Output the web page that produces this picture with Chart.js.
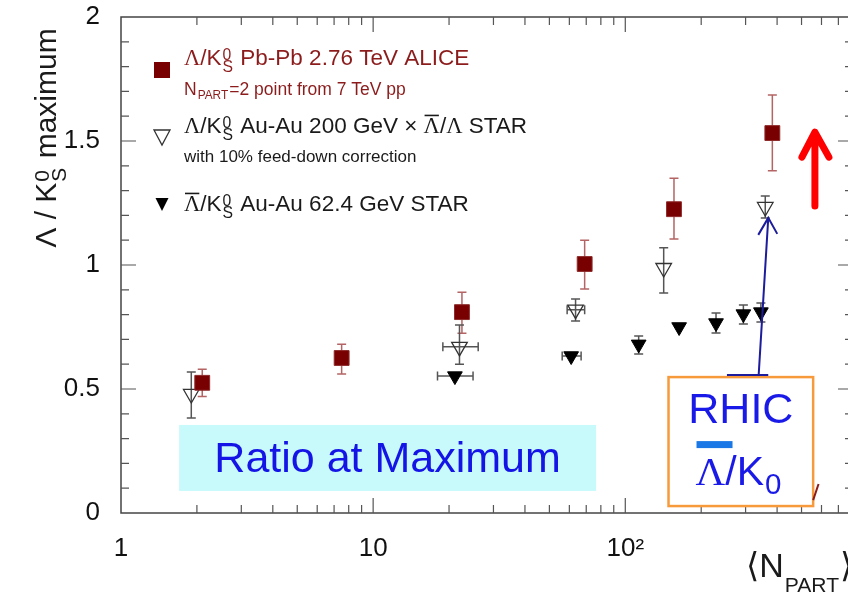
<!DOCTYPE html>
<html>
<head>
<meta charset="utf-8">
<script src="https://cdn.jsdelivr.net/npm/chart.js@4.4.1/dist/chart.umd.min.js"></script>
<style>
  html, body { margin: 0; padding: 0; background: #fff; overflow: hidden; }
</style>
</head>
<body>
<canvas id="myChart" width="880" height="595"></canvas>
<script>
// ALICE Pb-Pb 2.76 TeV (Npart=2 point from 7 TeV pp)
const aliceNpart = [2.1, 7.5, 22.5, 69, 156, 383];
const aliceRatio = [0.525, 0.625, 0.81, 1.004, 1.225, 1.532];
const aliceLow   = [0.47, 0.56, 0.725, 0.903, 1.105, 1.38];
const aliceHigh  = [0.58, 0.68, 0.89, 1.10, 1.35, 1.685];

// STAR Au-Au 200 GeV x antiLambda/Lambda
const star200Npart = [1.9, 22, 63.5, 142, 359];
const star200Ratio = [0.48, 0.67, 0.82, 0.988, 1.234];
const star200Low   = [0.383, 0.60, 0.774, 0.887, 1.19];
const star200High  = [0.569, 0.758, 0.863, 1.07, 1.278];
const star200NLow  = [null, 18.9, 58.8, null, null];
const star200NHigh = [null, 26.1, 69, null, null];

// STAR Au-Au 62.4 GeV antiLambda/K0s
const star62Npart = [21.1, 61, 113, 163.5, 229, 294, 345];
const star62Ratio = [0.552, 0.633, 0.68, 0.75, 0.766, 0.802, 0.81];
const star62Low   = [null, null, 0.641, null, 0.726, 0.762, 0.77];
const star62High  = [null, null, 0.714, null, 0.806, 0.839, 0.847];
const star62NLow  = [18.0, 56.2, null, null, null, null, null];
const star62NHigh = [24.9, 66.8, null, null, null, null, null];

const xTicks = [1, 10, 100];
const xTickLabels = ['1', '10', '10²'];
const yTicks = [0, 0.5, 1, 1.5, 2];

const SANS = "'Liberation Sans', Arial, 'DejaVu Sans', sans-serif";
const SERIF = "'Liberation Serif', 'Times New Roman', serif";

// text with sub/superscripts and overlines
function richText(ctx, parts, x, y, size, color, draw, o) {
  o = Object.assign({ scr: 0.7, supDy: 0.22, subDy: 0.32 }, o || {});
  let cx = x;
  ctx.fillStyle = color;
  ctx.strokeStyle = color;
  ctx.textAlign = 'left';
  ctx.textBaseline = 'alphabetic';
  for (const p of parts) {
    if (p.t !== undefined) {
      ctx.font = size + 'px ' + (p.serif ? SERIF : SANS);
      const w = ctx.measureText(p.t).width;
      if (draw) {
        ctx.fillText(p.t, cx, y);
        if (p.bar) {
          ctx.lineWidth = Math.max(1.5, size * 0.07);
          ctx.beginPath();
          ctx.moveTo(cx + 1, y - size * 0.78);
          ctx.lineTo(cx + w - 1, y - size * 0.78);
          ctx.stroke();
        }
      }
      cx += w;
    } else {
      const s = size * o.scr;
      ctx.font = s + 'px ' + SANS;
      const w1 = p.sup ? ctx.measureText(p.sup).width : 0;
      const w2 = p.sub ? ctx.measureText(p.sub).width : 0;
      if (draw) {
        if (p.sup) ctx.fillText(p.sup, cx + 1, y - size * o.supDy);
        if (p.sub) ctx.fillText(p.sub, cx + 1, y + size * o.subDy);
      }
      cx += Math.max(w1, w2) + 2;
    }
  }
  return cx - x;
}

const errorBars = {
  id: 'errorBars',
  beforeDatasetsDraw(chart) {
    const c = chart.ctx, xs = chart.scales.x, ys = chart.scales.y;
    c.save();
    chart.data.datasets.forEach(ds => {
      c.strokeStyle = ds.errColor;
      c.lineWidth = 1.5;
      ds.data.forEach((p, i) => {
        const px = xs.getPixelForValue(p.x), py = ys.getPixelForValue(p.y);
        if (ds.lo && ds.lo[i] != null) {
          const y1 = ys.getPixelForValue(ds.lo[i]), y2 = ys.getPixelForValue(ds.hi[i]);
          c.beginPath();
          c.moveTo(px, y1); c.lineTo(px, y2);
          c.moveTo(px - 4.5, y1); c.lineTo(px + 4.5, y1);
          c.moveTo(px - 4.5, y2); c.lineTo(px + 4.5, y2);
          c.stroke();
        }
        if (ds.nlo && ds.nlo[i] != null) {
          const x1 = xs.getPixelForValue(ds.nlo[i]), x2 = xs.getPixelForValue(ds.nhi[i]);
          c.beginPath();
          c.moveTo(x1, py); c.lineTo(x2, py);
          c.moveTo(x1, py - 4.5); c.lineTo(x1, py + 4.5);
          c.moveTo(x2, py - 4.5); c.lineTo(x2, py + 4.5);
          c.stroke();
        }
      });
    });
    c.restore();
  }
};

const decor = {
  id: 'decor',
  afterDraw(chart) {
    const c = chart.ctx, a = chart.chartArea, xs = chart.scales.x, ys = chart.scales.y;
    const X = v => xs.getPixelForValue(v), Y = v => ys.getPixelForValue(v);
    c.save();

    // frame and inward ticks
    c.strokeStyle = '#444';
    c.lineWidth = 1.5;
    c.strokeRect(a.left, a.top, a.right - a.left, a.bottom - a.top);
    c.lineWidth = 1.2;
    c.strokeStyle = '#555';
    c.beginPath();
    [1, 10, 100].forEach(d => {
      for (let k = 1; k <= 9; k++) {
        const v = k * d;
        if (v <= 1 || v >= 800) continue;
        const len = k === 1 ? 15 : 8, px = X(v);
        c.moveTo(px, a.bottom); c.lineTo(px, a.bottom - len);
        c.moveTo(px, a.top); c.lineTo(px, a.top + len);
      }
    });
    for (let k = 1; k < 20; k++) {
      const len = k % 5 === 0 ? 15 : 8, py = Y(k / 10);
      c.moveTo(a.left, py); c.lineTo(a.left + len, py);
      c.moveTo(a.right, py); c.lineTo(a.right - len, py);
    }
    c.stroke();

    // legend
    const lx = 162;
    c.fillStyle = '#780000';
    c.fillRect(lx - 8, 62, 16, 16);
    c.strokeStyle = '#333';
    c.lineWidth = 1.3;
    c.beginPath();
    c.moveTo(lx - 8, 130); c.lineTo(lx + 8, 130); c.lineTo(lx, 145); c.closePath();
    c.stroke();
    c.fillStyle = '#000';
    c.beginPath();
    c.moveTo(lx - 6.5, 198); c.lineTo(lx + 6.5, 198); c.lineTo(lx, 211); c.closePath();
    c.fill();

    const red = '#8c1c1c', blk = '#1a1a1a';
    richText(c, [{ t: 'Λ', serif: true }, { t: '/K' }, { sup: '0', sub: 'S' }, { t: ' Pb-Pb 2.76 TeV ALICE' }], 184, 65, 22.5, red, true);
    richText(c, [{ t: 'N' }, { sub: 'PART' }, { t: '=2 point from 7 TeV pp' }], 184, 95, 17.5, red, true, { scr: 0.68, subDy: 0.25 });
    richText(c, [{ t: 'Λ', serif: true }, { t: '/K' }, { sup: '0', sub: 'S' }, { t: ' Au-Au 200 GeV ' }, { t: '×' },
      { t: ' ' }, { t: 'Λ', serif: true, bar: true }, { t: '/' }, { t: 'Λ', serif: true }, { t: ' STAR' }], 184, 133, 22.5, blk, true);
    richText(c, [{ t: 'with 10% feed-down correction' }], 184, 162, 17, blk, true);
    richText(c, [{ t: 'Λ', serif: true, bar: true }, { t: '/K' }, { sup: '0', sub: 'S' }, { t: ' Au-Au 62.4 GeV STAR' }], 184, 211, 22.5, blk, true);

    // axis titles
    c.save();
    c.translate(56, 138);
    c.rotate(-Math.PI / 2);
    const yt = [{ t: 'Λ / K' }, { sup: '0', sub: 'S' }, { t: ' maximum' }];
    const w = richText(c, yt, 0, 0, 30, blk, false);
    richText(c, yt, -w / 2, 0, 30, blk, true);
    c.restore();
    richText(c, [{ t: '⟨' }, { t: 'N' }, { sub: 'PART' }, { t: '⟩' }], 746, 577, 34, blk, true, { scr: 0.62, subDy: 0.44 });

    // "Ratio at Maximum" box
    const bx1 = X(1.70), bx2 = X(76.6), by1 = Y(0.355), by2 = Y(0.089);
    c.fillStyle = '#c8fafc';
    c.fillRect(bx1, by1, bx2 - bx1, by2 - by1);
    c.fillStyle = '#1414e6';
    c.font = '43px ' + SANS;
    c.textAlign = 'center';
    c.textBaseline = 'alphabetic';
    c.fillText('Ratio at Maximum', (bx1 + bx2) / 2, by1 + 47);

    // RHIC box
    const rx1 = X(148.4), rx2 = X(556), ry1 = Y(0.548), ry2 = Y(0.028);
    c.fillStyle = '#fff';
    c.fillRect(rx1, ry1, rx2 - rx1, ry2 - ry1);
    c.strokeStyle = '#f79a3c';
    c.lineWidth = 2.5;
    c.strokeRect(rx1, ry1, rx2 - rx1, ry2 - ry1);
    c.fillStyle = '#1a1ae8';
    c.font = '43px ' + SANS;
    c.textAlign = 'center';
    c.fillText('RHIC', (rx1 + rx2) / 2, ry1 + 46);
    c.fillStyle = '#1a78e6';
    c.fillRect(rx1 + 28, ry1 + 64, 36, 7);
    richText(c, [{ t: 'Λ', serif: true }, { t: '/K' }, { sub: '0' }], rx1 + 27, ry1 + 108, 41, '#1a1ae8', true, { scr: 0.72, subDy: 0.22 });

    // blue arrow to RHIC point
    const tx = X(369), ty = Y(1.19), sx = X(338), sy = Y(0.556);
    c.strokeStyle = '#1c1c9c';
    c.lineWidth = 2;
    c.beginPath();
    c.moveTo(X(253), sy); c.lineTo(X(369), sy);
    c.moveTo(sx, sy); c.lineTo(tx, ty);
    c.moveTo(tx - 10, ty + 17); c.lineTo(tx, ty); c.lineTo(tx + 9, ty + 16);
    c.stroke();

    // red arrow
    const ax = X(565), atop = Y(1.544), abot = Y(1.238);
    c.strokeStyle = '#ff0000';
    c.lineWidth = 7;
    c.lineCap = 'round';
    c.lineJoin = 'round';
    c.beginPath();
    c.moveTo(ax, abot); c.lineTo(ax, atop + 3);
    c.moveTo(ax - 13, atop + 27); c.lineTo(ax, atop + 2); c.lineTo(ax + 14, atop + 27);
    c.stroke();

    // small dark red mark
    c.strokeStyle = '#8c1c1c';
    c.lineWidth = 2;
    c.lineCap = 'butt';
    c.beginPath();
    c.moveTo(X(556), Y(0.052)); c.lineTo(X(584), Y(0.117));
    c.stroke();

    c.restore();
  }
};

const toPts = (xs, ys) => xs.map((x, i) => ({ x: x, y: ys[i] }));

const ctx = document.getElementById('myChart').getContext('2d');
const myChart = new Chart(ctx, {
  type: 'scatter',
  data: {
    datasets: [
      {
        label: 'ALICE Pb-Pb 2.76 TeV',
        data: toPts(aliceNpart, aliceRatio),
        pointStyle: 'rect', pointRadius: 10.5, pointHoverRadius: 10.5,
        backgroundColor: '#780000', borderColor: '#8e2a2a', borderWidth: 1,
        errColor: '#b46464', lo: aliceLow, hi: aliceHigh
      },
      {
        label: 'STAR Au-Au 200 GeV',
        data: toPts(star200Npart, star200Ratio),
        pointStyle: 'triangle', rotation: 180, pointRadius: 9, pointHoverRadius: 9,
        backgroundColor: 'rgba(0,0,0,0)', borderColor: '#333', borderWidth: 1.3,
        errColor: '#555', lo: star200Low, hi: star200High, nlo: star200NLow, nhi: star200NHigh
      },
      {
        label: 'STAR Au-Au 62.4 GeV',
        data: toPts(star62Npart, star62Ratio),
        pointStyle: 'triangle', rotation: 180, pointRadius: 8.5, pointHoverRadius: 8.5,
        backgroundColor: '#000', borderColor: '#000', borderWidth: 1,
        errColor: '#555', lo: star62Low, hi: star62High, nlo: star62NLow, nhi: star62NHigh
      }
    ]
  },
  options: {
    responsive: false,
    animation: false,
    layout: { padding: { left: 0, top: 17, right: 27, bottom: 0 } },
    plugins: { legend: { display: false }, tooltip: { enabled: false } },
    scales: {
      x: {
        type: 'logarithmic', min: 1, max: 800,
        grid: { display: false }, border: { display: false },
        afterFit: s => { s.height = 82; s.paddingLeft = 0; s.paddingRight = 0; },
        afterBuildTicks: s => { s.ticks = xTicks.map(v => ({ value: v })); },
        ticks: {
          autoSkip: false, maxRotation: 0, padding: 12, color: '#111',
          font: { family: SANS, size: 26 },
          callback: v => { const i = xTicks.indexOf(v); return i < 0 ? '' : xTickLabels[i]; }
        }
      },
      y: {
        min: 0, max: 2,
        grid: { display: false }, border: { display: false },
        afterFit: s => { s.width = 121; s.paddingTop = 0; s.paddingBottom = 0; },
        afterBuildTicks: s => { s.ticks = yTicks.map(v => ({ value: v })); },
        ticks: { padding: 13, color: '#111', font: { family: SANS, size: 26 }, callback: v => String(v) }
      }
    }
  },
  plugins: [errorBars, decor]
});
</script>
</body>
</html>
